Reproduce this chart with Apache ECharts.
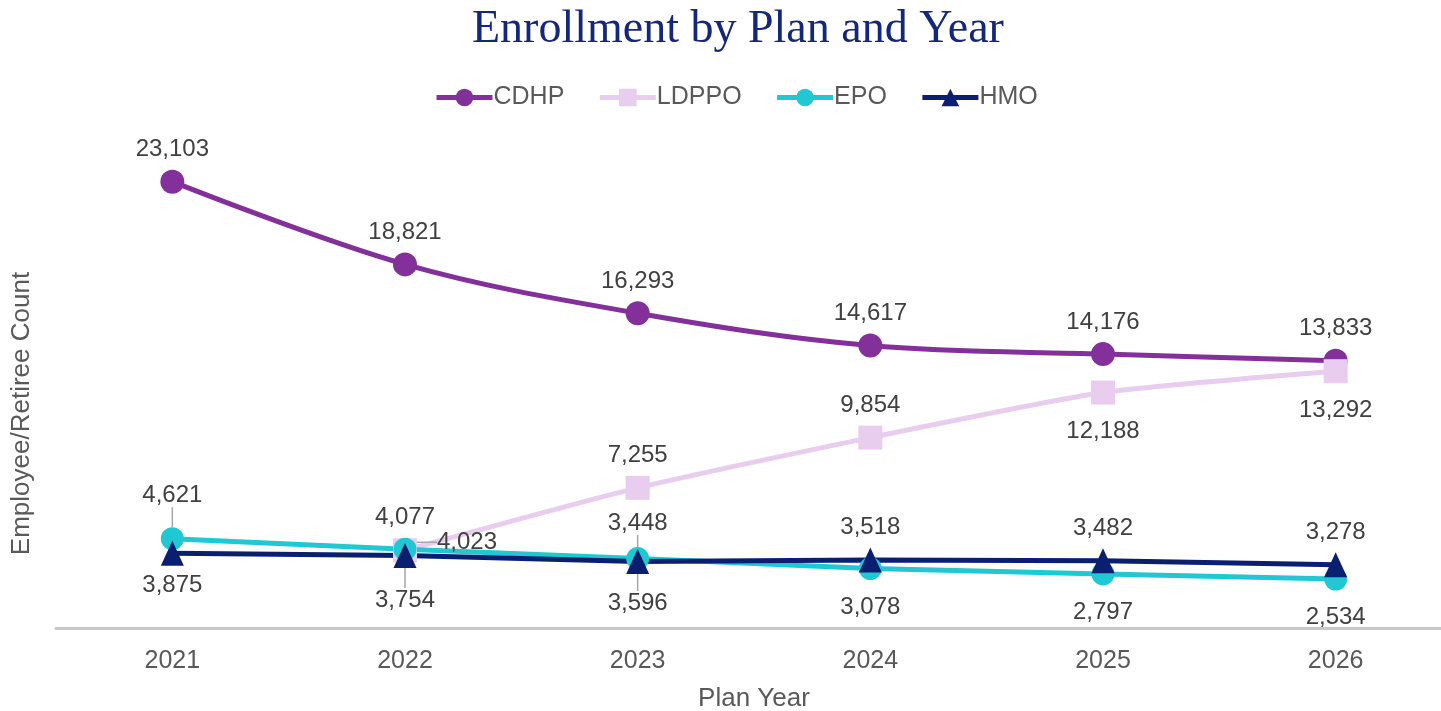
<!DOCTYPE html>
<html>
<head>
<meta charset="utf-8">
<script src="https://cdn.jsdelivr.net/npm/echarts@6/dist/echarts.min.js"></script>
<style>
html,body{margin:0;padding:0;background:#fff;overflow:hidden;}
#c{width:1441px;height:711px;}
</style>
</head>
<body>
<div id="c"></div>
<script>
const years = ['2021', '2022', '2023', '2024', '2025', '2026'];
const cdhp  = [23103, 18821, 16293, 14617, 14176, 13833];
const ldppo = [null, 4023, 7255, 9854, 12188, 13292];
const epo   = [4621, 4077, 3596, 3078, 2797, 2534];
const hmo   = [3875, 3754, 3448, 3518, 3482, 3278];

const FONT = '"Liberation Sans", Arial, sans-serif';
const LABEL_COLOR = '#404040';
const fmt = v => v.value == null ? '' : Number(Array.isArray(v.value) ? v.value[1] : v.value).toLocaleString('en-US');

function items(arr, positions, leaders, bottomDist) {
  return arr.map((v, i) => {
    if (v == null) return null;
    const lab = { position: positions[i] };
    if (positions[i] === 'bottom' && bottomDist != null) lab.distance = bottomDist;
    const o = { value: v, label: lab };
    if (leaders && leaders[i]) o.labelLine = { show: true };
    return o;
  });
}

const baseLabel = {
  show: true, color: LABEL_COLOR, fontFamily: FONT, fontSize: 24, distance: 8,
  formatter: fmt
};
const leaderStyle = { show: false, lineStyle: { color: '#a6a6a6', width: 1.5 }, length2: 0, smooth: false };

const shifts = {
  '2-0': { dy: -12 },
  '2-2': { dy: 6 },
  '3-1': { dy: 12 },
  '3-2': { dy: -6 },
  '1-1': { dx: 12, dy: -8 }
};

const option = {
  animation: false,
  backgroundColor: '#ffffff',
  title: {
    text: 'Enrollment by Plan and Year',
    left: 467, top: 2,
    textStyle: { fontFamily: '"Liberation Serif", "DejaVu Serif", serif', fontWeight: 'normal', fontSize: 46, color: '#13287a' }
  },
  legend: {
    top: 80, left: 429,
    itemWidth: 56, itemHeight: 22, itemGap: 33,
    lineStyle: { width: 5 },
    textStyle: { fontFamily: FONT, fontSize: 25, color: '#595959', padding: [0, 0, 0, -4] },
    data: ['CDHP', 'LDPPO', 'EPO', 'HMO']
  },
  grid: { left: 56, width: 1396, top: 145, bottom: 83, containLabel: false, outerBoundsMode: 'none' },
  xAxis: {
    type: 'category', data: years, boundaryGap: true,
    axisLine: { show: true, lineStyle: { color: '#c8c8c8', width: 3 } },
    axisTick: { show: false },
    axisLabel: { color: '#595959', fontFamily: FONT, fontSize: 25, margin: 21 },
    name: 'Plan Year', nameLocation: 'middle', nameGap: 58,
    nameTextStyle: { color: '#595959', fontFamily: FONT, fontSize: 26 }
  },
  yAxis: {
    type: 'value', min: 0, max: 25000,
    axisLine: { show: false }, axisTick: { show: false }, axisLabel: { show: false },
    splitLine: { show: false },
    name: 'Employee/Retiree Count', nameLocation: 'middle', nameGap: 21,
    nameTextStyle: { color: '#595959', fontFamily: FONT, fontSize: 26, padding: [0, 54, 0, 0] }
  },
  series: [
    {
      name: 'CDHP', type: 'line', smooth: 0.35,
      data: items(cdhp, ['top','top','top','top','top','top']),
      symbol: 'circle', symbolSize: 24,
      lineStyle: { width: 5, color: '#84309a' }, itemStyle: { color: '#84309a' },
      label: baseLabel, labelLine: leaderStyle
    },
    {
      name: 'LDPPO', type: 'line', smooth: 0.2,
      data: items(ldppo, [null,'right','top','top','bottom','bottom'], [0,1,0,0,0,0], 15),
      symbol: 'rect', symbolSize: 24,
      lineStyle: { width: 5, color: '#e8cdee' }, itemStyle: { color: '#e8cdee' },
      label: baseLabel, labelLine: leaderStyle,
      labelLayout: p => shifts['1-' + p.dataIndex] || {}
    },
    {
      name: 'EPO', type: 'line',
      data: items(epo, ['top','top','bottom','bottom','bottom','bottom'], [1,0,1,0,0,0], 15),
      symbol: 'circle', symbolSize: 23,
      lineStyle: { width: 5, color: '#1fc8d3' }, itemStyle: { color: '#1fc8d3' },
      label: baseLabel, labelLine: leaderStyle,
      labelLayout: p => shifts['2-' + p.dataIndex] || {}
    },
    {
      name: 'HMO', type: 'line',
      data: items(hmo, ['bottom','bottom','top','top','top','top'], [0,1,1,0,0,0]),
      symbol: 'triangle', symbolSize: [23, 25],
      lineStyle: { width: 5, color: '#0a1f70' }, itemStyle: { color: '#0a1f70' },
      label: baseLabel, labelLine: leaderStyle,
      labelLayout: p => shifts['3-' + p.dataIndex] || {}
    }
  ]
};

const chart = echarts.init(document.getElementById('c'), null, { renderer: 'canvas' });
chart.setOption(option);
</script>
</body>
</html>
